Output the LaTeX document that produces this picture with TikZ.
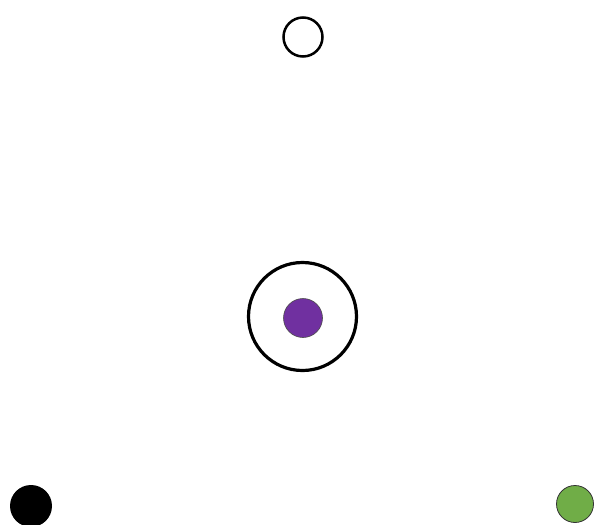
\documentclass[tikz,border=0pt]{standalone}
\begin{document}
\begin{tikzpicture}[x=1pt,y=-1pt,
  dot/.style={circle,inner sep=0pt,minimum size=#1},
]
\definecolor{violetfill}{HTML}{7030A0}
\definecolor{greenfill}{HTML}{70AD47}
\useasboundingbox[fill=white] (0,0) rectangle (595,525);
\node[dot=39pt,draw=black,line width=2.5pt,fill=white] (top) at (303,37) {};
\node[dot=108pt,draw=black,line width=3.2pt] (ring) at (302.5,316.5) {};
\node[dot=39pt,draw=black!70,line width=0.6pt,fill=violetfill] (center) at (303,318) {};
\node[dot=42pt,fill=black] (black) at (31,506) {};
\node[dot=37pt,draw=black!80,line width=0.8pt,fill=greenfill] (green) at (575,504) {};
\end{tikzpicture}
\end{document}
